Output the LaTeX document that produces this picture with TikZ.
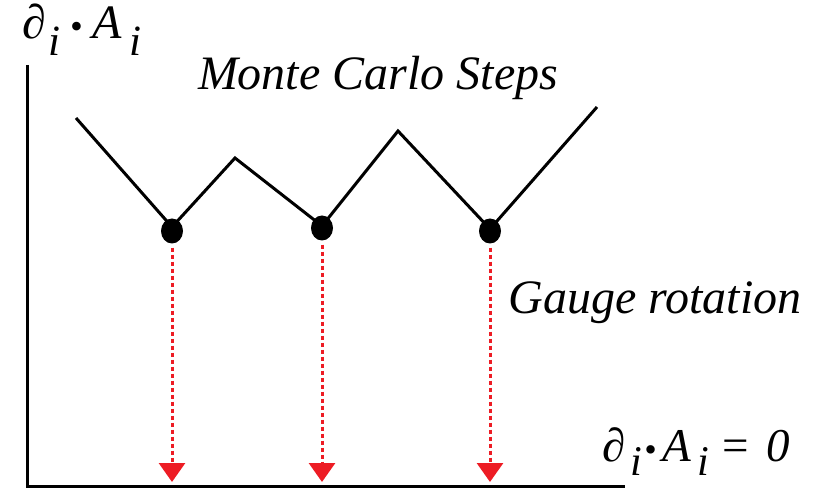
\documentclass[tikz,border=0pt]{standalone}
\usepackage{fontspec}
\setmainfont{LiberationSerif}[Extension=.ttf,UprightFont=*-Regular,ItalicFont=*-Italic,BoldFont=*-Bold,BoldItalicFont=*-BoldItalic]
\usetikzlibrary{arrows.meta,shapes.geometric}
\definecolor{rd}{RGB}{237,28,36}
% #1..#4 kerns, #5 subscript drop
\newcommand{\dAx}[5]{∂\kern#1\raisebox{-#5}{\scalebox{0.9}{i}}\kern#2\scalebox{0.75}{•}\kern#3A\kern#4\raisebox{-#5}{\scalebox{0.9}{i}}}
\begin{document}
\begin{tikzpicture}[x=1pt,y=-1pt,
  axis/.style={line width=3pt},
  zig/.style={line width=3pt},
  dotnode/.style={ellipse,fill=black,minimum width=22pt,minimum height=25pt,inner sep=0pt},
  gauge/.style={draw=rd,line width=3pt,dash pattern=on 4pt off 3pt,
    -{Triangle[width=26pt,length=19pt,fill=rd]}, shorten <=4pt},
  lbl/.style={font=\fontsize{48}{52}\selectfont\itshape,inner sep=0pt}]
\useasboundingbox (0,0) rectangle (828,489);
% axes
\coordinate (top) at (27,65);
\coordinate (orig) at (27,486);
\coordinate (right) at (625,486);
\draw[axis] (top) -- (orig) -- (right);
% zigzag
\coordinate (z0) at (76,118);
\coordinate (z1) at (172,227);
\coordinate (z2) at (235,158);
\coordinate (z3) at (322,226);
\coordinate (z4) at (398,131);
\coordinate (z5) at (490,229);
\coordinate (z6) at (597,107);
\node[dotnode] (d1) at (172,231) {};
\node[dotnode] (d2) at (322,228) {};
\node[dotnode] (d3) at (490,231) {};
\draw[zig,line join=miter] (z0) -- (z1) -- (z2) -- (z3) -- (z4) -- (z5) -- (z6);
% targets
\coordinate (t1) at (172,482);
\coordinate (t2) at (322,482);
\coordinate (t3) at (490,482);
\draw[gauge] (d1) -- (t1);
\draw[gauge] (d2) -- (t2);
\draw[gauge] (d3) -- (t3);
% labels
\node[lbl,font=\fontsize{48}{52}\selectfont\itshape,anchor=base west] (ylab) at (22,39) {\dAx{3pt}{9pt}{10pt}{8pt}{17pt}};
\node[lbl,anchor=base] (mc) at (378,90) {Monte Carlo Steps};
\node[lbl,anchor=base] (gr) at (655,313) {Gauge rotation};
\node[lbl,font=\fontsize{47}{52}\selectfont\itshape,anchor=base west] (eq) at (602,461) {\dAx{5pt}{2pt}{6pt}{6pt}{14pt}\kern11pt=\kern15pt0};
\end{tikzpicture}
\end{document}
